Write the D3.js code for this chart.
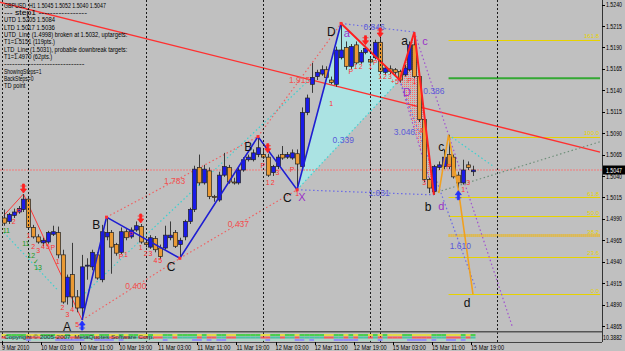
<!DOCTYPE html>
<html lang="en">
<head>
<meta charset="utf-8">
<title>GBPUSD H1</title>
<script src="https://d3js.org/d3.v7.min.js"></script>
<style>
	body { margin: 0; background: #c0c0c0; }
	svg { display: block; font-family: "Liberation Sans", Arial, sans-serif; }
</style>
</head>
<body>
<script>
// ---- data (H1 bars, 9 Mar 19:00 .. 15 Mar 19:00) ----
var open = [1.4991,1.4987,1.4994,1.4998,1.5001,1.5013,1.4980,1.4969,1.4962,1.4963,
	1.4972,1.4974,1.4948,1.4899,1.4925,1.4899,1.4886,1.4935,1.4934,1.4948,
	1.4919,1.4969,1.4974,1.4960,1.4951,1.4975,1.4969,1.4977,1.4981,1.4962,
	1.4957,1.4967,1.4956,1.4956,1.4968,1.4974,1.4960,1.4969,1.4987,1.5001,
	1.5050,1.5032,1.5046,1.5016,1.5012,1.5041,1.5050,1.5033,1.5032,1.5047,
	1.5059,1.5059,1.5065,1.5065,1.5062,1.5044,1.5051,1.5065,1.5062,1.5061,
	1.5066,1.5051,1.5114,1.5147,1.5156,1.5159,1.5164,1.5152,1.5147,1.5178,
	1.5190,1.5168,1.5193,1.5173,1.5184,1.5176,1.5178,1.5196,1.5161,1.5165,
	1.5164,1.5162,1.5158,1.5164,1.5193,1.5156,1.5106,1.5036,1.5022,1.5050,
	1.5051,1.5065,1.5062,1.5041,1.5032,1.5053,1.5045];
var high = [1.5001,1.4997,1.5002,1.5005,1.5019,1.5016,1.4983,1.4972,1.4968,1.4976,
	1.4982,1.4981,1.4954,1.4925,1.4962,1.4907,1.4948,1.4944,1.4954,1.4951,
	1.4983,1.4992,1.4977,1.4962,1.4980,1.4978,1.4980,1.4987,1.4984,1.4965,
	1.4971,1.4970,1.4960,1.4982,1.4987,1.4977,1.4968,1.4989,1.5003,1.5052,
	1.5065,1.5053,1.5050,1.5018,1.5045,1.5067,1.5053,1.5038,1.5050,1.5062,
	1.5065,1.5071,1.5086,1.5071,1.5066,1.5053,1.5065,1.5075,1.5068,1.5071,
	1.5071,1.5120,1.5135,1.5172,1.5164,1.5169,1.5168,1.5156,1.5191,1.5218,
	1.5197,1.5194,1.5197,1.5187,1.5192,1.5179,1.5199,1.5201,1.5169,1.5169,
	1.5166,1.5164,1.5170,1.5197,1.5208,1.5158,1.5108,1.5038,1.5053,1.5057,
	1.5071,1.5088,1.5065,1.5045,1.5059,1.5057,1.5052];
var low = [1.4982,1.4984,1.4991,1.4996,1.4998,1.4977,1.4967,1.4961,1.4958,1.4961,
	1.4970,1.4944,1.4891,1.4890,1.4887,1.4881,1.4872,1.4919,1.4930,1.4919,
	1.4916,1.4965,1.4926,1.4947,1.4949,1.4965,1.4967,1.4975,1.4961,1.4957,
	1.4955,1.4951,1.4943,1.4954,1.4965,1.4956,1.4944,1.4965,1.4984,1.4998,
	1.5029,1.5030,1.5013,1.5010,1.5010,1.5039,1.5031,1.5030,1.5030,1.5045,
	1.5057,1.5057,1.5062,1.5060,1.5039,1.5040,1.5048,1.5059,1.5060,1.5059,
	1.5024,1.5047,1.5111,1.5137,1.5152,1.5157,1.5152,1.5147,1.5144,1.5176,
	1.5164,1.5165,1.5170,1.5171,1.5182,1.5171,1.5176,1.5159,1.5158,1.5159,
	1.5158,1.5149,1.5156,1.5162,1.5154,1.5103,1.5033,1.5020,1.5018,1.5047,
	1.5048,1.5048,1.5037,1.5024,1.5030,1.5047,1.5040];
var close = [1.4985,1.4995,1.4998,1.5002,1.5013,1.4980,1.4969,1.4963,1.4965,1.4974,
	1.4975,1.4948,1.4893,1.4922,1.4899,1.4886,1.4934,1.4936,1.4951,1.4921,
	1.4975,1.4974,1.4957,1.4950,1.4975,1.4968,1.4977,1.4982,1.4963,1.4960,
	1.4968,1.4954,1.4946,1.4971,1.4971,1.4958,1.4965,1.4987,1.5001,1.5048,
	1.5032,1.5048,1.5016,1.5015,1.5041,1.5051,1.5033,1.5032,1.5047,1.5059,
	1.5062,1.5067,1.5073,1.5062,1.5041,1.5051,1.5062,1.5061,1.5065,1.5067,
	1.5054,1.5114,1.5131,1.5155,1.5161,1.5164,1.5155,1.5149,1.5187,1.5187,
	1.5168,1.5191,1.5172,1.5184,1.5189,1.5173,1.5196,1.5162,1.5166,1.5162,
	1.5161,1.5152,1.5166,1.5193,1.5156,1.5106,1.5036,1.5026,1.5051,1.5053,
	1.5062,1.5051,1.5039,1.5032,1.5047,1.5050,1.5047];

var timeLabels = ["9 Mar 2010","10 Mar 03:00","10 Mar 11:00","10 Mar 19:00","11 Mar 03:00",
	"11 Mar 11:00","11 Mar 19:00","12 Mar 03:00","12 Mar 11:00","12 Mar 19:00",
	"15 Mar 03:00","15 Mar 11:00","15 Mar 19:00"];
var timeLabelBars = [0,8,16,24,32,40,48,56,64,72,80,88,96];
var priceTicks = [1.5240,1.5215,1.5190,1.5165,1.5140,1.5115,1.5090,1.5065,1.5040,
	1.5015,1.4990,1.4965,1.4940,1.4915,1.4890,1.4865];
var gridBars = [-0.4, 5, 29, 53, 75, 77, 101];

var infoLines = ["GBPUSD_H1  1.5045 1.5052 1.5040 1.5047", "---   step1   -----------------",
	"UTD 1.5205   1.5084", "LTD 1.5017   1.5036",
	"UTD_Line (1.4998) broken at 1.5032, uptargets:", "T1=1.5151 (119pts.)",
	"LTD_Line (1.5031), probable downbreak targets:", "T1=1.4970 (62pts.)",
	"------------------------------", "ShowingSteps=1", "BackSteps=0", "TD point"];

// pattern pivots [bar, price]
var blueZig = [[16,1.4872],[21,1.4992],[36,1.4944],[52,1.5086],[60,1.5024],[69,1.5218]];
var redZig = [[69,1.5218],[81,1.5152],[84,1.5208],[88,1.5018]];
var orangeZig = [[89,1.5020],[91,1.5088],[93,1.5024],[96,1.4902]];
var leftZig = [[0,1.4994],[4,1.5019],[16,1.4872]];
var cyanArea = [[60,1.5024],[69,1.5218],[81,1.5152]];
var pinkArea = [[81,1.5152],[84,1.5208],[88,1.5018]];
var trendLine = [[-1,1.5243],[122,1.5068]];
var lastPrice = 1.5047;

// dotted ratio lines
var ratioFrom = [[16,1.4872],[21,1.4992],[36,1.4944],[52,1.5086],[60,1.5024],[69,1.5218],[60,1.5024],[81,1.5152],[84,1.5208],[81,1.5152]];
var ratioTo   = [[36,1.4944],[52,1.5086],[60,1.5024],[69,1.5218],[81,1.5152],[84,1.5208],[88,1.5018],[88,1.5018],[104,1.4865],[96.5,1.4910]];
var ratioText = ["0.400","1.783","0.437","1.915","0.339","0.846","1.031","3.046","0.386","1.610"];
var ratioKind = ["red","red","red","red","cyan","blue","blue","purple","purple","blue"];
var ratioT    = [0.55,0.45,0.5,0.5,0.45,0.45,0.6,0.45,0.2,0.8];
var ratioAnchor = ["middle","middle","middle","middle","middle","middle","middle","end","middle","middle"];

var cyanDots = [[[0,1.4974],[11,1.4907]], [[16,1.4900],[63,1.5155]], [[91,1.5088],[100,1.5052]]];
var grayDots = [[88,1.5020],[122,1.5080]];

// fibonacci levels right of c
var fibNames = ["161.8","100.0","61.8","50.0","38.2","23.6","0.0"];
var fibPrices = [1.5199,1.5086,1.5015,1.4993,1.4971,1.4946,1.4902];
var greenLevel = 1.5154;
var fibStart = 91, fibEnd = 122;

// markers
var redArrowBars = [4, 28, 54, 74, 77];
var blueArrowBars = [16, 93];
var bigLabels = [["A",12.9,1.4864],["B",18.9,1.4983],["C",34.2,1.4934],["B",50,1.5075],["C",58,1.5015],
	["D",67,1.5209],["a",82,1.5198],["b",86.8,1.5005],["c",89.5,1.5074],["d",94.8,1.4892]];
var purpleLabels = [["X",61,1.5015],["a",70.2,1.5207],["c",86.2,1.5197],["D",82.5,1.5138],["d",89.5,1.5005]];
var redMarks = [[2,1.4987,"2"],[3,1.4999,"P"],[5,1.4971,"1"],[6,1.4958,"2"],[7,1.4953,"3"],[8,1.4958,"4"],
	[9,1.4958,"5"],[10,1.4957,"P"],[11,1.4940,"1"],[12,1.4887,"2"],[13,1.4879,"3"],[14,1.4884,"4"],
	[15,1.4867,"5"],[24,1.4946,"P"],[25,1.4948,"1"],[26,1.4972,"P"],[28,1.4957,"1"],[29,1.4950,"2"],
	[30,1.4950,"3"],[31,1.4942,"4"],[32,1.4942,"5"],[53,1.5052,"P"],[54,1.5032,"1"],[55,1.5032,"2"],
	[56,1.5044,"3"],[59,1.5048,"P"],[60,1.5020,"1"],[67,1.5125,"1"],[71,1.5162,"P"],[72,1.5168,"1"],
	[73,1.5168,"2"],[75,1.5168,"1"],[76,1.5172,"P"],[77,1.5156,"1"],[78,1.5156,"2"],[79,1.5156,"3"],
	[80,1.5150,"+5"],[83,1.5152,"P"],[84,1.5150,"1"],[85.4,1.5093,"4"],[86,1.5032,"3"],[91,1.5051,"P"],
	[94,1.5024,"1"],[95,1.5032,"3"]];
var greenMarks = [[0.5,1.4976,"11"],[4.5,1.4961,"11"],[5.6,1.4947,"12"],[6.6,1.4940,"\u2713"],[7,1.4933,"13"]];

// ---- drawing ----
var width = 625, height = 351;
var plotRight = 602, plotBottom = 331, subBottom = 342;

var svg = d3.select("body").append("svg")
	.attr("width", width)
	.attr("height", height);

var x = d3.scaleLinear().domain([0, 96]).range([3.9, 473]);
var y = d3.scaleLinear().domain([1.4865, 1.5240]).range([326, 4.6]);
var line = d3.line().x(function(d){ return x(d[0]); }).y(function(d){ return y(d[1]); });

svg.append("rect").attr("width", width).attr("height", height).attr("fill", "#c0c0c0");

var defs = svg.append("defs");
defs.append("clipPath").attr("id", "plot")
	.append("rect").attr("width", plotRight).attr("height", plotBottom);
var pat = defs.append("pattern").attr("id", "pinkdots")
	.attr("width", 2).attr("height", 2).attr("patternUnits", "userSpaceOnUse");
pat.append("rect").attr("width", 1).attr("height", 1).attr("fill", "#ff6a6a");

var g = svg.append("g").attr("clip-path", "url(#plot)");

// vertical grid (day separators)
svg.append("g").selectAll("line")
	.data(gridBars)
	.enter().append("line")
	.attr("x1", function(d){ return Math.round(x(d)) + 0.5; })
	.attr("x2", function(d){ return Math.round(x(d)) + 0.5; })
	.attr("y1", 0).attr("y2", subBottom)
	.attr("stroke", "#1a1a1a").attr("stroke-dasharray", "2,2");

// shaded pattern areas
g.append("path").datum(cyanArea).attr("d", function(d){ return line(d) + "Z"; })
	.attr("fill", "#abe3e3");
g.append("path").datum(pinkArea).attr("d", function(d){ return line(d) + "Z"; })
	.attr("fill", "url(#pinkdots)");

// bid line
g.append("line").attr("x1", 0).attr("x2", plotRight)
	.attr("y1", y(lastPrice)).attr("y2", y(lastPrice))
	.attr("stroke", "#e39090").attr("stroke-width", 1.5).attr("stroke-dasharray", "2,1");

// fibo + green level
g.selectAll(".fib").data(fibPrices).enter().append("line")
	.attr("x1", x(fibStart)).attr("x2", x(fibEnd))
	.attr("y1", function(d){ return Math.round(y(d)) + 0.5; })
	.attr("y2", function(d){ return Math.round(y(d)) + 0.5; })
	.attr("stroke", function(d, i){ return fibNames[i] == "38.2" ? "#f2b400" : "#e6d200"; })
	.attr("stroke-width", function(d, i){ return fibNames[i] == "38.2" ? 3 : 1; })
	.attr("stroke-dasharray", function(d, i){ return fibNames[i] == "38.2" ? "1,1" : null; });
g.selectAll(".fibtxt").data(fibPrices).enter().append("text")
	.attr("x", plotRight - 3).attr("y", function(d){ return y(d) - 1.5; })
	.attr("text-anchor", "end").attr("font-size", 6).attr("fill", "#e6d200")
	.text(function(d, i){ return fibNames[i]; });
g.append("line").attr("x1", x(fibStart)).attr("x2", x(fibEnd))
	.attr("y1", y(greenLevel)).attr("y2", y(greenLevel))
	.attr("stroke", "#33a833").attr("stroke-width", 2);

// long red trendline
g.append("path").datum(trendLine).attr("d", line)
	.attr("fill", "none").attr("stroke", "#ff3030").attr("stroke-width", 1.3);

// dotted lines
var kindColor = { red: "#f06060", cyan: "#40d0d0", blue: "#6a6ae6", purple: "#a050d0" };
var labelColor = { red: "#f05050", cyan: "#5a5ad8", blue: "#5a5ad8", purple: "#5a5ad8" };
g.selectAll(".cyd").data(cyanDots).enter().append("path")
	.attr("d", line).attr("fill", "none")
	.attr("stroke", "#3cd0d0").attr("stroke-dasharray", "1.5,2.5").attr("stroke-width", 1.2);
g.append("path").datum(grayDots).attr("d", line).attr("fill", "none")
	.attr("stroke", "#6f8f7a").attr("stroke-dasharray", "1.5,2.5").attr("stroke-width", 1.2);
g.selectAll(".ratio").data(ratioText).enter().append("path")
	.attr("d", function(d, i){ return line([ratioFrom[i], ratioTo[i]]); })
	.attr("fill", "none")
	.attr("stroke", function(d, i){ return kindColor[ratioKind[i]]; })
	.attr("stroke-dasharray", "1.5,2.5").attr("stroke-width", 1.2);
g.append("path").datum(leftZig).attr("d", line)
	.attr("fill", "none").attr("stroke", "#ff3a3a").attr("stroke-width", 1);

// candles
var idx = d3.range(open.length);
var candles = g.append("g");
candles.selectAll(".wick").data(idx).enter().append("line")
	.attr("x1", function(i){ return Math.round(x(i)) + 0.5; })
	.attr("x2", function(i){ return Math.round(x(i)) + 0.5; })
	.attr("y1", function(i){ return y(high[i]); })
	.attr("y2", function(i){ return y(low[i]); })
	.attr("stroke", "#3a3a3a");
candles.selectAll(".body").data(idx).enter().append("rect")
	.attr("x", function(i){ return Math.round(x(i)) - 1.5; })
	.attr("width", 4)
	.attr("y", function(i){ return y(Math.max(open[i], close[i])); })
	.attr("height", function(i){ return Math.max(1, Math.abs(y(open[i]) - y(close[i]))); })
	.attr("fill", function(i){ return close[i] >= open[i] ? "#1a1ae8" : "#ea9a34"; })
	.attr("stroke", "#222").attr("stroke-width", 0.7);

// zigzags
g.append("path").datum(blueZig).attr("d", line)
	.attr("fill", "none").attr("stroke", "#1e1ed2").attr("stroke-width", 1.6);
g.append("path").datum(redZig).attr("d", line)
	.attr("fill", "none").attr("stroke", "#ff2020").attr("stroke-width", 2);
g.append("path").datum(orangeZig).attr("d", line)
	.attr("fill", "none").attr("stroke", "#f0a020").attr("stroke-width", 1.6);
g.selectAll(".piv").data(blueZig.slice(1)).enter().append("rect")
	.attr("x", function(d){ return x(d[0]) - 1.5; }).attr("y", function(d){ return y(d[1]) - 1.5; })
	.attr("width", 3).attr("height", 3).attr("fill", "#ff3030");

// ratio labels
g.selectAll(".rtxt").data(ratioText).enter().append("text")
	.attr("x", function(d, i){ var t = ratioT[i]; return x(ratioFrom[i][0] + (ratioTo[i][0] - ratioFrom[i][0]) * t); })
	.attr("y", function(d, i){ var t = ratioT[i]; return y(ratioFrom[i][1] + (ratioTo[i][1] - ratioFrom[i][1]) * t) + 3; })
	.attr("text-anchor", function(d, i){ return ratioAnchor[i]; }).attr("font-size", 8.5)
	.attr("fill", function(d, i){ return labelColor[ratioKind[i]]; })
	.text(function(d){ return d; });

// arrows
var downArrow = "M0,0 L-3,-4 L-1,-4 L-1,-9 L1,-9 L1,-4 L3,-4 Z M-3,-7 L3,-7";
svg.selectAll(".rarr").data(redArrowBars).enter().append("path")
	.attr("transform", function(i){ return "translate(" + x(i) + "," + (y(high[i]) - 1) + ")"; })
	.attr("d", downArrow).attr("fill", "#ff2020").attr("stroke", "#ff2020").attr("stroke-width", 0.8);
svg.selectAll(".barr").data(blueArrowBars).enter().append("path")
	.attr("transform", function(i){ return "translate(" + x(i) + "," + (y(low[i]) + 1) + ") scale(1,-1)"; })
	.attr("d", downArrow).attr("fill", "#2030ff").attr("stroke", "#2030ff").attr("stroke-width", 0.8);

// small labels
svg.selectAll(".rm").data(redMarks).enter().append("text")
	.attr("x", function(d){ return x(d[0]); }).attr("y", function(d){ return y(d[1]) + 2.5; })
	.attr("text-anchor", "middle").attr("font-size", 7).attr("fill", "#ff3030")
	.text(function(d){ return d[2]; });
svg.selectAll(".gm").data(greenMarks).enter().append("text")
	.attr("x", function(d){ return x(d[0]); }).attr("y", function(d){ return y(d[1]) + 2.5; })
	.attr("text-anchor", "middle").attr("font-size", 7).attr("fill", "#1c9a1c")
	.text(function(d){ return d[2]; });
svg.selectAll(".bl").data(bigLabels).enter().append("text")
	.attr("x", function(d){ return x(d[1]); }).attr("y", function(d){ return y(d[2]) + 4.5; })
	.attr("text-anchor", "middle").attr("font-size", 12).attr("fill", "#111")
	.text(function(d){ return d[0]; });
svg.selectAll(".pl").data(purpleLabels).enter().append("text")
	.attr("x", function(d){ return x(d[1]); }).attr("y", function(d){ return y(d[2]) + 4; })
	.attr("text-anchor", "middle").attr("font-size", 11).attr("fill", "#9a30c8")
	.text(function(d){ return d[0]; });

// info block
svg.selectAll(".info").data(infoLines).enter().append("text")
	.attr("x", 4).attr("y", function(d, i){ return 7.5 + i * 7.35; })
	.attr("font-size", 7).attr("fill", "#000")
	.attr("textLength", function(d){ return d.length * 2.68; })
	.attr("lengthAdjust", "spacingAndGlyphs")
	.text(function(d){ return d; });

// sub window (indicator strip)
svg.append("rect").attr("x", 0).attr("y", plotBottom).attr("width", plotRight).attr("height", 1.5).attr("fill", "#555");
var strip = svg.append("g");
var rowColors = [
	function(i){ return close[i] >= open[i] ? "#38d038" : "#e8e030"; },
	function(i){ return close[i] >= open[i] ? "#30c8a0" : "#ff4a4a"; },
	function(i){ return (high[i] - low[i]) > 0.0025 ? "#8a8aff" : "#a8d8c8"; }];
rowColors.forEach(function(fn, r){
	strip.selectAll(".s" + r).data(idx).enter().append("rect")
		.attr("x", function(i){ return x(i) - 2.4; }).attr("width", 4.9)
		.attr("y", 334 + r * 2.5).attr("height", 2)
		.attr("fill", fn).attr("opacity", 0.85);
});
svg.append("text").attr("x", 4).attr("y", 338.5).attr("font-size", 6).attr("fill", "#333")
	.attr("textLength", 150).attr("lengthAdjust", "spacingAndGlyphs")
	.text("Copyright \u00a9 2005-2007, MetaQuotes Software Corp.");
svg.append("line").attr("x1", 0).attr("x2", plotRight).attr("y1", subBottom + 0.5).attr("y2", subBottom + 0.5)
	.attr("stroke", "#444");
svg.append("text").attr("x", 603).attr("y", 340).attr("font-size", 6.5).attr("fill", "#000")
	.attr("textLength", 19).attr("lengthAdjust", "spacingAndGlyphs").text("10.3882");

// right price axis
svg.append("line").attr("x1", plotRight + 0.5).attr("x2", plotRight + 0.5)
	.attr("y1", 0).attr("y2", subBottom).attr("stroke", "#333");
var yAxis = svg.append("g");
yAxis.selectAll("line").data(priceTicks).enter().append("line")
	.attr("x1", plotRight).attr("x2", plotRight + 3)
	.attr("y1", function(d){ return Math.round(y(d)) + 0.5; })
	.attr("y2", function(d){ return Math.round(y(d)) + 0.5; })
	.attr("stroke", "#000");
yAxis.selectAll("text").data(priceTicks).enter().append("text")
	.attr("x", plotRight + 4).attr("y", function(d){ return y(d) + 2.5; })
	.attr("font-size", 6.5).attr("fill", "#000")
	.attr("textLength", 16).attr("lengthAdjust", "spacingAndGlyphs")
	.text(function(d){ return d.toFixed(4); });
svg.append("rect").attr("x", plotRight + 1).attr("y", y(lastPrice) - 4.5)
	.attr("width", width - plotRight).attr("height", 9).attr("fill", "#000");
svg.append("text").attr("x", plotRight + 4).attr("y", y(lastPrice) + 2.5)
	.attr("font-size", 6.5).attr("fill", "#fff")
	.attr("textLength", 16).attr("lengthAdjust", "spacingAndGlyphs")
	.text(lastPrice.toFixed(4));

// time axis
var xAxis = svg.append("g");
xAxis.selectAll("line").data(timeLabelBars).enter().append("line")
	.attr("x1", function(d){ return Math.round(x(d)) - 1.5; })
	.attr("x2", function(d){ return Math.round(x(d)) - 1.5; })
	.attr("y1", subBottom).attr("y2", subBottom + 3).attr("stroke", "#000");
xAxis.selectAll("text").data(timeLabels).enter().append("text")
	.attr("x", function(d, i){ return x(timeLabelBars[i]) - 2; })
	.attr("y", 349.5).attr("font-size", 7).attr("fill", "#000")
	.attr("textLength", function(d){ return d.length * 2.75; })
	.attr("lengthAdjust", "spacingAndGlyphs")
	.text(function(d){ return d; });
</script>
</body>
</html>
